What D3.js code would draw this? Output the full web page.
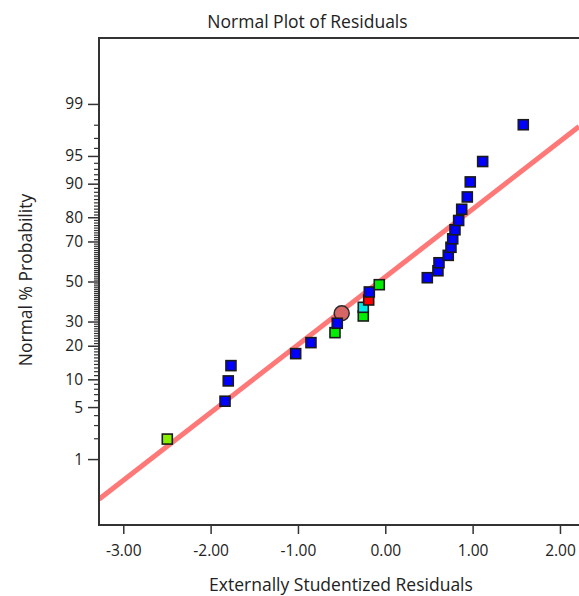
<!DOCTYPE html>
<html><head><meta charset="utf-8">
<script src="https://cdn.jsdelivr.net/npm/d3@7"></script>
<style>
html,body{margin:0;padding:0;background:#fff;}
text{font-family:"Open Sans","Noto Sans",sans-serif;fill:#222;}
</style></head>
<body><svg id="c" width="579" height="596"></svg>
<script>
// ---- data ----
const residuals = [-2.496,-1.835,-1.798,-1.767,-1.026,-0.851,-0.576,-0.550,-0.252,-0.252,-0.190,-0.183,-0.069,
  0.481,0.603,0.615,0.721,0.752,0.772,0.798,0.840,0.875,0.939,0.973,1.115,1.580];
const probabilities = [1.95,5.84,9.64,13.52,17.23,21.16,25.14,29.22,32.57,36.77,40.43,44.55,48.33,
  51.98,55.6,59.7,63.4,67.3,71.2,75.1,78.8,82.8,86.6,90.4,94.2,98.0];
const pointColors = ["#86f000","#0000ff","#0000ff","#0000ff","#0000ff","#0000ff","#00ee00","#0000ff","#00ee00","#00eaea","#ff0000","#0000ff","#00ee00",
  "#0000ff","#0000ff","#0000ff","#0000ff","#0000ff","#0000ff","#0000ff","#0000ff","#0000ff","#0000ff","#0000ff","#0000ff","#0000ff"];
const highlightResidual = [-0.499];
const highlightProbability = [33.87];
const fitLineResidual = [-3.278, 2.218];
const fitLineProbability = [0.217, 97.88];
const xTicks = [-3,-2,-1,0,1,2];
const yMajorTicks = [1,5,10,20,30,50,70,80,90,95,99];
const yMinorTicks = d3.range(1,100).filter(v => !yMajorTicks.includes(v));
const xDomain = [-3.278, 2.218];
const zDomain = [-3.19, 3.19];

// inverse standard normal CDF (Acklam) for the probability axis
function probit(p){
  const a=[-3.969683028665376e+01,2.209460984245205e+02,-2.759285104469687e+02,1.383577518672690e+02,-3.066479806614716e+01,2.506628277459239e+00];
  const b=[-5.447609879822406e+01,1.615858368580409e+02,-1.556989798598866e+02,6.680131188771972e+01,-1.328068155288572e+01];
  const c=[-7.784894002430293e-03,-3.223964580411365e-01,-2.400758277161838e+00,-2.549732539343734e+00,4.374664141464968e+00,2.938163982698783e+00];
  const d=[7.784695709041462e-03,3.224671290700398e-01,2.445134137142996e+00,3.754408661907416e+00];
  const pl=0.02425, ph=1-pl; let q,r;
  if(p<pl){q=Math.sqrt(-2*Math.log(p));return (((((c[0]*q+c[1])*q+c[2])*q+c[3])*q+c[4])*q+c[5])/((((d[0]*q+d[1])*q+d[2])*q+d[3])*q+1);}
  if(p<=ph){q=p-0.5;r=q*q;return (((((a[0]*r+a[1])*r+a[2])*r+a[3])*r+a[4])*r+a[5])*q/(((((b[0]*r+b[1])*r+b[2])*r+b[3])*r+b[4])*r+1);}
  q=Math.sqrt(-2*Math.log(1-p));return -(((((c[0]*q+c[1])*q+c[2])*q+c[3])*q+c[4])*q+c[5])/((((d[0]*q+d[1])*q+d[2])*q+d[3])*q+1);
}
const Z = pct => probit(pct/100);

const pLeft=99, pRight=579, pTop=38, pBottom=525;
const svg = d3.select("#c");
const x = d3.scaleLinear().domain(xDomain).range([pLeft,pRight]);
const yz = d3.scaleLinear().domain(zDomain).range([pBottom,pTop]);

svg.append("defs").append("clipPath").attr("id","clip")
  .append("rect").attr("x",pLeft).attr("y",pTop).attr("width",pRight-pLeft).attr("height",pBottom-pTop);

// fit line
svg.append("path")
  .datum(fitLineResidual.map((r,i)=>[r,fitLineProbability[i]]))
  .attr("clip-path","url(#clip)")
  .attr("d", d3.line().x(d=>x(d[0])).y(d=>yz(Z(d[1]))))
  .attr("stroke","#ff7878").attr("stroke-width",5).attr("fill","none");

// highlighted point
svg.selectAll("circle.h").data(highlightResidual).join("circle").attr("class","h")
  .attr("cx",d=>x(d)).attr("cy",(d,i)=>yz(Z(highlightProbability[i]))).attr("r",7.5)
  .attr("fill","#d46666").attr("stroke","#2a2a2a").attr("stroke-width",1.5);

// squares
const s=10;
svg.selectAll("rect.pt").data(residuals).join("rect").attr("class","pt")
  .attr("x",d=>x(d)-s/2).attr("y",(d,i)=>yz(Z(probabilities[i]))-s/2)
  .attr("width",s).attr("height",s)
  .attr("fill",(d,i)=>pointColors[i]).attr("stroke","#1a1a1a").attr("stroke-width",1.6);

// x axis
const fmt = d3.format(".2f");
const gx = svg.append("g").attr("transform",`translate(0,${pBottom})`)
  .call(d3.axisBottom(x).tickValues(xTicks).tickFormat(d => fmt(d).replace("\u2212","-")).tickSize(9).tickPadding(11));
gx.select(".domain").remove();
gx.selectAll("line").attr("stroke","#333").attr("stroke-width",1.5);
gx.selectAll("text").attr("font-size",15.5).attr("fill","#333").style("font-family","'Open Sans',sans-serif");

// y axis minor
const gym = svg.append("g").attr("transform",`translate(${pLeft},0)`)
  .call(d3.axisLeft(yz).tickValues(yMinorTicks.map(Z)).tickFormat("").tickSize(5));
gym.select(".domain").remove();
gym.selectAll("line").attr("stroke","#333").attr("stroke-width",1.2);
// y axis major
const gy = svg.append("g").attr("transform",`translate(${pLeft},0)`)
  .call(d3.axisLeft(yz).tickValues(yMajorTicks.map(Z)).tickFormat((d,i)=>yMajorTicks[i]).tickSize(11).tickPadding(5));
gy.select(".domain").remove();
gy.selectAll("line").attr("stroke","#333").attr("stroke-width",1.5);
gy.selectAll("text").attr("font-size",15.5).attr("fill","#333").style("font-family","'Open Sans',sans-serif");

// frame
svg.append("path").attr("d",`M${pRight},${pTop}H${pLeft}V${pBottom}H${pRight}`)
  .attr("fill","none").attr("stroke","#333").attr("stroke-width",2);

// titles
svg.append("text").attr("x",307.5).attr("y",28).attr("text-anchor","middle").attr("font-size",17.5).text("Normal Plot of Residuals");
svg.append("text").attr("x",341).attr("y",591).attr("text-anchor","middle").attr("font-size",17.5).text("Externally Studentized Residuals");
svg.append("text").attr("transform","translate(32,280) rotate(-90)").attr("text-anchor","middle").attr("font-size",17.5).text("Normal % Probability");
</script></body></html>
